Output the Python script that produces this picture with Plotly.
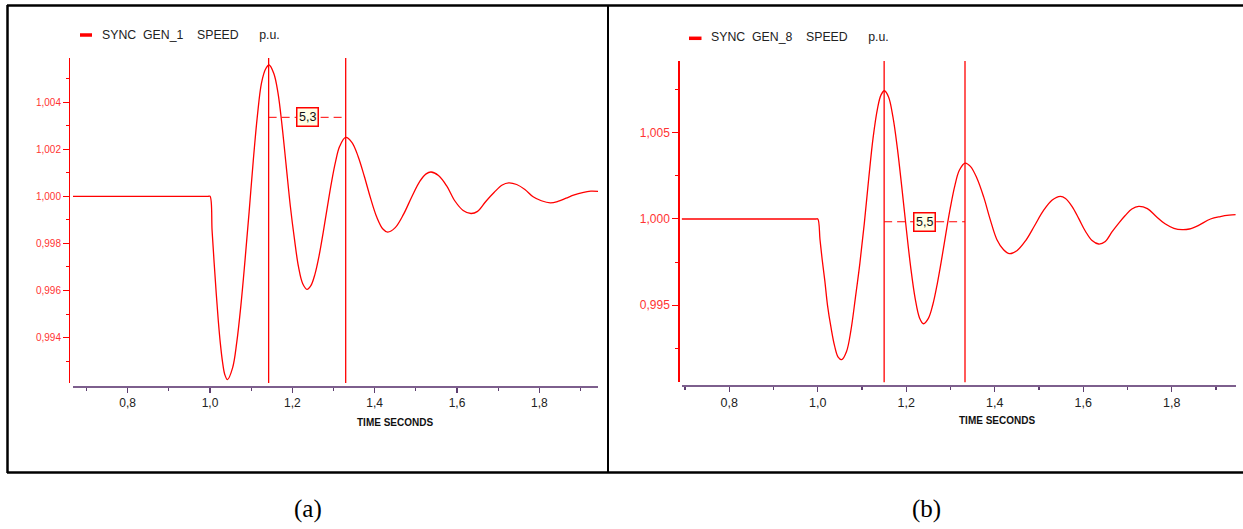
import plotly.graph_objects as go

# ---------------- data ----------------
# Panel (a): SYNC GEN_1 speed, p.u.
time_a = [0.667, 0.80, 0.90, 0.995, 1.000, 1.005, 1.010, 1.015, 1.020, 1.025, 1.030, 1.036, 1.0423,
          1.055, 1.065, 1.075, 1.085, 1.095, 1.105, 1.115, 1.125, 1.135, 1.1435,
          1.155, 1.165, 1.175, 1.185, 1.195, 1.205, 1.215, 1.225, 1.2356,
          1.245, 1.255, 1.265, 1.275, 1.285, 1.295, 1.305, 1.315, 1.3296,
          1.345, 1.360, 1.375, 1.390, 1.405, 1.420, 1.4316,
          1.450, 1.470, 1.490, 1.510, 1.525, 1.537,
          1.555, 1.575, 1.595, 1.615, 1.634,
          1.650, 1.670, 1.690, 1.710, 1.7257,
          1.745, 1.765, 1.785, 1.805, 1.8268,
          1.845, 1.865, 1.885, 1.905, 1.925, 1.943]
speed_a = [1.0000, 1.0000, 1.0000, 1.0000, 1.0000, 0.99855, 0.99718, 0.99590, 0.99474, 0.99377, 0.99302, 0.99243, 0.99222,
           0.99273, 0.99381, 0.99537, 0.99728, 0.99934, 1.00150, 1.00340, 1.00480, 1.00540, 1.00557,
           1.00521, 1.00440, 1.00300, 1.00130, 0.99960, 0.99820, 0.99700, 0.99630, 0.99605,
           0.99621, 0.99670, 0.99748, 0.99847, 0.99954, 1.00058, 1.00147, 1.00212, 1.00250,
           1.00228, 1.00168, 1.00084, 0.99992, 0.99912, 0.99861, 0.99848,
           0.99867, 0.99923, 0.99997, 1.00064, 1.00095, 1.00103,
           1.00088, 1.00044, 0.99980, 0.99940, 0.99927,
           0.99936, 0.99978, 1.00016, 1.00048, 1.00057,
           1.00050, 1.00029, 0.99998, 0.99981, 0.99972,
           0.99978, 0.99992, 1.00006, 1.00016, 1.00022, 1.00021]

# Panel (b): SYNC GEN_8 speed, p.u.
time_b = [0.692, 0.80, 0.90, 0.995, 1.000, 1.005, 1.010, 1.016, 1.022, 1.030, 1.038, 1.046, 1.0543,
          1.065, 1.075, 1.085, 1.095, 1.105, 1.115, 1.125, 1.135, 1.143, 1.1507,
          1.160, 1.170, 1.180, 1.190, 1.200, 1.210, 1.220, 1.230, 1.239,
          1.250, 1.260, 1.270, 1.280, 1.290, 1.300, 1.310, 1.320, 1.3328,
          1.345, 1.360, 1.375, 1.390, 1.405, 1.420, 1.4335,
          1.450, 1.470, 1.490, 1.510, 1.530, 1.5484,
          1.560, 1.575, 1.590, 1.605, 1.620, 1.635,
          1.650, 1.665, 1.680, 1.695, 1.710, 1.7255,
          1.745, 1.765, 1.785, 1.805, 1.8238,
          1.840, 1.860, 1.8878, 1.910, 1.930, 1.945]
speed_b = [1.0000, 1.0000, 1.0000, 1.0000, 1.0000, 0.99881, 0.99764, 0.99640, 0.99500, 0.99370, 0.99265, 0.99200, 0.99185,
           0.99232, 0.99356, 0.99543, 0.99740, 0.99970, 1.00230, 1.00470, 1.00640, 1.00719, 1.00743,
           1.00707, 1.00590, 1.00408, 1.00183, 0.99945, 0.99721, 0.99542, 0.99427, 0.99393,
           0.99424, 0.99503, 0.99623, 0.99767, 0.99923, 1.00070, 1.00195, 1.00282, 1.00324,
           1.00305, 1.00235, 1.00128, 0.99995, 0.99880, 0.99822, 0.99799,
           0.99816, 0.99875, 0.99961, 1.00048, 1.00110, 1.00131,
           1.00119, 1.00072, 1.00002, 0.99929, 0.99875, 0.99855,
           0.99870, 0.99925, 0.99975, 1.00020, 1.00058, 1.00073,
           1.00060, 1.00015, 0.99972, 0.99946, 0.99938,
           0.99942, 0.99962, 1.00000, 1.00014, 1.00022, 1.00025]

legend_a = "SYNC\u00a0\u00a0GEN_1\u00a0\u00a0\u00a0\u00a0SPEED\u00a0\u00a0\u00a0\u00a0\u00a0\u00a0p.u."
legend_b = "SYNC\u00a0\u00a0GEN_8\u00a0\u00a0\u00a0\u00a0SPEED\u00a0\u00a0\u00a0\u00a0\u00a0\u00a0p.u."

cursors_a = [1.1424, 1.3296]     # vertical cursor times, panel (a)
cursors_b = [1.1500, 1.3328]     # vertical cursor times, panel (b)
cursor_level_a = 1.00335         # dashed measuring line level
cursor_level_b = 0.99984
cursor_label_a = "5,3"
cursor_label_b = "5,5"

x_title = "TIME SECONDS"
captions = ["(a)", "(b)"]

# ---------------- layout helpers ----------------
W, H = 1243, 529
def px(x):
    return x / W
def py(y):
    return 1 - y / H

RED = "#ff0000"
TICKRED = "#ff3333"
PURPLE = "#7d5f8d"
PURPLE_T = "#5e3f70"
FONT = "Liberation Sans, Arial, sans-serif"

fig = go.Figure()
fig.add_trace(go.Scatter(x=time_a, y=speed_a, mode="lines", xaxis="x", yaxis="y",
                         line=dict(color=RED, width=1.3, shape="spline", smoothing=1.0),
                         showlegend=False, hoverinfo="skip"))
fig.add_trace(go.Scatter(x=time_b, y=speed_b, mode="lines", xaxis="x2", yaxis="y2",
                         line=dict(color=RED, width=1.3, shape="spline", smoothing=1.0),
                         showlegend=False, hoverinfo="skip"))

xcommon = dict(showgrid=False, zeroline=False, showline=True, linecolor=PURPLE, linewidth=2,
               ticks="outside", tickcolor=PURPLE_T, tickwidth=1.3, ticklen=5,
               tickformat=".1f", dtick=0.2, tick0=0.0,
               minor=dict(dtick=0.1, ticks="outside", ticklen=3, tickcolor=PURPLE_T, tickwidth=1.2),
               anchor="free", fixedrange=True)
ycommon = dict(showgrid=False, zeroline=False, showline=True, linecolor=RED, linewidth=1.2,
               ticks="outside", tickcolor=RED, tickwidth=1, ticklen=6,
               tickformat=".3f", anchor="free", fixedrange=True)

fig.update_layout(
    width=W, height=H, margin=dict(l=0, r=0, t=0, b=0),
    paper_bgcolor="white", plot_bgcolor="white",
    separators=",.",
    font=dict(family=FONT, color="#222222"),
    xaxis=dict(xcommon, domain=[px(73), px(598)], range=[0.6671, 1.9426],
               position=py(386.7), tickfont=dict(size=12, color="#222222")),
    yaxis=dict(ycommon, domain=[py(383), py(58)], range=[0.992078, 1.005867],
               position=px(69), dtick=0.002, tick0=0.994,
               minor=dict(dtick=0.001, ticks="outside", ticklen=3, tickcolor=RED),
               tickfont=dict(size=10, color=TICKRED)),
    xaxis2=dict(xcommon, domain=[px(681.7), px(1235.7)], range=[0.6924, 1.9447],
                position=py(385.7), tickfont=dict(size=12.5, color="#222222")),
    yaxis2=dict(ycommon, domain=[py(382.3), py(61)], range=[0.990538, 1.009154],
                position=px(678.3), dtick=0.005, tick0=0.995,
                minor=dict(dtick=0.0025, ticks="outside", ticklen=3, tickcolor=RED),
                tickfont=dict(size=12, color=TICKRED)),
)

shapes = []
annotations = []

# panel frames
frame = dict(color="black", width=2.5)
shapes.append(dict(type="line", xref="paper", yref="paper", x0=px(7), x1=px(1243), y0=py(5.5), y1=py(5.5), line=frame))
shapes.append(dict(type="line", xref="paper", yref="paper", x0=px(7), x1=px(1243), y0=py(472.5), y1=py(472.5), line=frame))
shapes.append(dict(type="line", xref="paper", yref="paper", x0=px(7.5), x1=px(7.5), y0=py(5), y1=py(473), line=frame))
shapes.append(dict(type="line", xref="paper", yref="paper", x0=px(608), x1=px(608), y0=py(5), y1=py(473),
                   line=dict(color="black", width=2)))

# cursors & measuring lines
for xa, ya, cur, lvl, lab in [("x", "y", cursors_a, cursor_level_a, cursor_label_a),
                              ("x2", "y2", cursors_b, cursor_level_b, cursor_label_b)]:
    for c in cur:
        shapes.append(dict(type="line", xref=xa, yref=ya + " domain", x0=c, x1=c, y0=0, y1=1,
                           line=dict(color=RED, width=1.3)))
    shapes.append(dict(type="line", xref=xa, yref=ya, x0=cur[0], x1=cur[1], y0=lvl, y1=lvl,
                       line=dict(color=RED, width=1, dash="8px,5px")))
    annotations.append(dict(xref=xa, yref=ya, x=(cur[0] + cur[1]) / 2, y=lvl, text=lab,
                            showarrow=False, font=dict(size=12.5, color="#111111", family=FONT),
                            bgcolor="#ffffe4", bordercolor=RED, borderwidth=1.5, borderpad=1.5,
                            xanchor="center", yanchor="middle"))

# legends (line swatch + text)
for (lx0, lx1, ly), (tx, ty), txt in [((80, 92, 35), (100, 35), legend_a),
                                       ((689, 701.5, 38.3), (709, 36.7), legend_b)]:
    shapes.append(dict(type="line", xref="paper", yref="paper", x0=px(lx0), x1=px(lx1), y0=py(ly), y1=py(ly),
                       line=dict(color=RED, width=3.5)))
    annotations.append(dict(xref="paper", yref="paper", x=px(tx), y=py(ty), text=txt, showarrow=False,
                            xanchor="left", yanchor="middle", font=dict(size=12.3, color="#222222", family=FONT)))

# x-axis titles
for cx, cy in [(395.3, 422.3), (997, 420)]:
    annotations.append(dict(xref="paper", yref="paper", x=px(cx), y=py(cy), text="<b>" + x_title + "</b>",
                            showarrow=False, xanchor="center", yanchor="middle",
                            font=dict(size=10, color="#111111", family=FONT)))

# captions
for cx, txt in zip([308, 926], captions):
    annotations.append(dict(xref="paper", yref="paper", x=px(cx), y=py(509), text=txt, showarrow=False,
                            xanchor="center", yanchor="middle",
                            font=dict(size=25, color="black", family="Liberation Serif, Times New Roman, serif")))

fig.update_layout(shapes=shapes, annotations=annotations)

fig.write_html("out.html", config={"displayModeBar": False, "staticPlot": True},
               post_script="document.body.style.margin='0';document.body.style.overflow='hidden';")
